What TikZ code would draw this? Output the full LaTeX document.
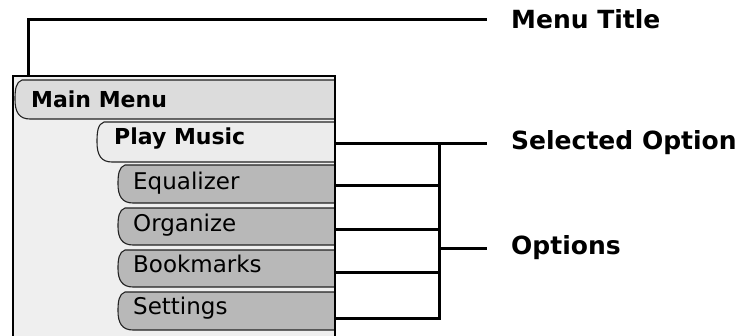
\documentclass[tikz,border=0pt]{standalone}
\usepackage{fontspec}
\setmainfont{DejaVu Sans}
\newfontfamily\tabfont{DejaVu Sans}
\newfontfamily\tabboldfont{DejaVu Sans Bold}
\newfontfamily\lblfont{DejaVu Sans Bold}
\definecolor{scrbg}{HTML}{EFEFEF}
\definecolor{mainfill}{HTML}{DCDCDC}
\definecolor{selfill}{HTML}{ECECEC}
\definecolor{optfill}{HTML}{B8B8B8}
\definecolor{tabline}{HTML}{222222}
\tikzset{
  tabedge/.style={draw=tabline, line width=1.1pt},
  conn/.style={draw=black, line width=3pt},
  lbl/.style={anchor=west, inner sep=0pt, font=\lblfont\fontsize{25}{28}\selectfont},
  tabtxt/.style={anchor=base west, inner sep=0pt},
  optfont/.style={font=\tabfont\fontsize{23}{26}\selectfont},
  boldfont/.style={font=\tabboldfont\fontsize{22}{26}\selectfont},
}
% #1 name, #2 L, #3 T, #4 B, #5 fill, #6 font style, #7 text x, #8 baseline, #9 text
\newcommand\menutab[9]{%
  \fill[#5] ({#2+7},#3) .. controls ({#2+1},{#3+2}) and (#2,{#3+9}) .. (#2,{(#3+#4)/2}) .. controls (#2,{#4-7}) and ({#2+4},#4) .. ({#2+15},#4) -- (334,#4) -- (334,#3) -- cycle;
  \draw[tabedge] (334,#3) -- ({#2+7},#3) .. controls ({#2+1},{#3+2}) and (#2,{#3+9}) .. (#2,{(#3+#4)/2}) .. controls (#2,{#4-7}) and ({#2+4},#4) .. ({#2+15},#4) -- (334,#4);
  \node[tabtxt, #6] (#1) at (#7,#8) {#9};
}
\begin{document}
\begin{tikzpicture}[x=1pt,y=-1pt]
\useasboundingbox (0,0) rectangle (749,335);
% screen background
\fill[scrbg] (13,76) rectangle (335,336);
% tabs
\menutab{mainmenu}{15}{80}{119}{mainfill}{boldfont}{31}{107}{Main Menu}
\menutab{play}{97}{122}{162}{selfill}{boldfont}{114}{144}{Play Music}
\menutab{eq}{118}{165}{203}{optfill}{optfont}{133}{189}{Equalizer}
\menutab{org}{118}{208}{245}{optfill}{optfont}{133}{231}{Organize}
\menutab{book}{118}{250}{287}{optfill}{optfont}{133}{272}{Bookmarks}
\menutab{set}{118}{292}{330}{optfill}{optfont}{133}{314}{Settings}
% screen border
\draw[line width=2.2pt] (13,337) -- (13,76) -- (335,76) -- (335,337);
% anchor points
\coordinate (scrtitle) at (28,76);
\coordinate (play-r) at (336,143);
\coordinate (eq-r) at (336,185);
\coordinate (org-r) at (336,229);
\coordinate (book-r) at (336,272);
\coordinate (set-r) at (336,318);
\coordinate (brk) at (439,0);
% labels
\node[lbl] (title) at (511,19) {Menu Title};
\node[lbl] (sel) at (511,143) {Selected Option};
\node[lbl] (opt) at (511,248) {Options};
% connectors
\draw[conn] (scrtitle) |- ([xshift=-24pt]title.west);
\draw[conn] (play-r) -- ([xshift=-24pt]sel.west);
\draw[conn] (set-r) -| (brk |- play-r);
\draw[conn] (eq-r) -- (brk |- eq-r);
\draw[conn] (org-r) -- (brk |- org-r);
\draw[conn] (book-r) -- (brk |- book-r);
\draw[conn] (brk |- opt.west) -- ([xshift=-24pt]opt.west);
\end{tikzpicture}
\end{document}
